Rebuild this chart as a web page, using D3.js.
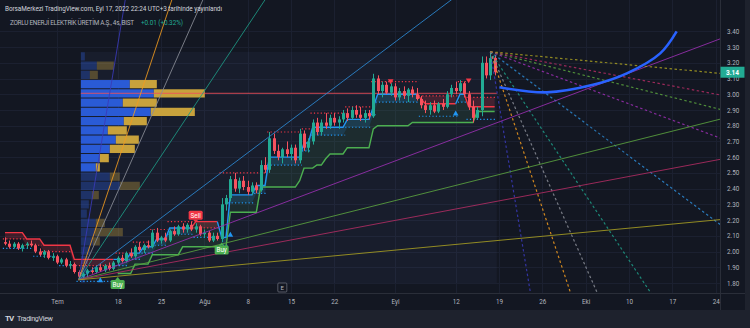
<!DOCTYPE html>
<html>
<head>
<meta charset="utf-8">
<script src="https://cdnjs.cloudflare.com/ajax/libs/d3/7.8.5/d3.min.js"></script>
<style>
body { margin: 0; background: #131722; }
svg { display: block; font-family: Roboto, "Noto Sans", sans-serif; }
</style>
</head>
<body>
<div id="CHART"></div>
<script>
// 4h bars, [open, high, low, close]
const candles = [
  [2.06,2.09,2.04,2.05],[2.05,2.07,2.02,2.03],[2.03,2.06,2.02,2.05],[2.05,2.06,2.01,2.02],
  [2.02,2.05,2.00,2.04],[2.04,2.06,2.02,2.05],[2.05,2.07,2.03,2.04],[2.04,2.05,1.99,2.00],
  [2.00,2.02,1.97,1.98],[1.98,2.01,1.96,2.00],[2.00,2.01,1.95,1.96],[1.96,1.99,1.94,1.97],
  [1.97,1.98,1.92,1.93],[1.93,1.96,1.92,1.95],[1.95,1.96,1.90,1.91],[1.91,1.94,1.89,1.92],
  [1.92,1.93,1.86,1.87],[1.87,1.88,1.82,1.84],[1.84,1.87,1.83,1.86],[1.86,1.89,1.84,1.88],
  [1.88,1.90,1.86,1.87],[1.87,1.91,1.86,1.90],[1.90,1.92,1.87,1.88],[1.88,1.92,1.87,1.91],
  [1.91,1.93,1.88,1.89],[1.89,1.94,1.88,1.93],[1.93,1.97,1.91,1.96],[1.96,1.98,1.93,1.94],
  [1.94,2.00,1.93,1.99],[1.99,2.02,1.96,1.97],[1.97,2.04,1.96,2.03],[2.03,2.06,2.00,2.01],
  [2.01,2.05,1.99,2.04],[2.04,2.07,2.02,2.03],[2.03,2.14,2.02,2.12],[2.12,2.15,2.06,2.07],
  [2.07,2.10,2.05,2.09],[2.09,2.12,2.06,2.07],[2.07,2.14,2.06,2.13],[2.13,2.16,2.10,2.11],
  [2.11,2.17,2.10,2.16],[2.16,2.18,2.12,2.14],[2.14,2.18,2.12,2.17],[2.17,2.19,2.13,2.14],
  [2.14,2.18,2.12,2.16],[2.16,2.17,2.10,2.11],[2.11,2.14,2.09,2.12],[2.12,2.13,2.06,2.07],
  [2.07,2.12,2.06,2.10],[2.10,2.12,2.07,2.08],[2.08,2.34,2.06,2.30],[2.30,2.36,2.26,2.34],
  [2.34,2.48,2.32,2.46],[2.46,2.50,2.38,2.40],[2.40,2.47,2.37,2.45],[2.45,2.48,2.39,2.41],
  [2.41,2.45,2.36,2.38],[2.38,2.44,2.36,2.42],[2.42,2.44,2.37,2.39],[2.39,2.58,2.38,2.55],
  [2.55,2.60,2.50,2.52],[2.52,2.76,2.50,2.72],[2.72,2.75,2.62,2.64],[2.64,2.68,2.58,2.60],
  [2.60,2.66,2.56,2.65],[2.65,2.70,2.60,2.62],[2.62,2.68,2.58,2.66],[2.66,2.68,2.56,2.58],
  [2.58,2.78,2.56,2.75],[2.75,2.77,2.64,2.66],[2.66,2.72,2.63,2.70],[2.70,2.84,2.68,2.82],
  [2.82,2.85,2.74,2.76],[2.76,2.84,2.74,2.82],[2.82,2.88,2.78,2.80],[2.80,2.87,2.78,2.85],
  [2.85,2.88,2.80,2.82],[2.82,2.86,2.78,2.84],[2.84,2.90,2.82,2.88],[2.88,2.91,2.83,2.85],
  [2.85,2.92,2.84,2.90],[2.90,2.93,2.85,2.87],[2.87,2.92,2.83,2.85],[2.85,2.90,2.82,2.88],
  [2.88,2.90,2.84,2.86],[2.86,3.13,2.85,3.10],[3.10,3.12,3.00,3.02],[3.02,3.08,2.98,3.06],
  [3.06,3.08,3.00,3.01],[3.01,3.07,2.99,3.05],[3.05,3.07,2.96,2.98],[2.98,3.04,2.96,3.02],
  [3.02,3.05,2.97,2.99],[2.99,3.04,2.95,3.03],[3.03,3.05,2.98,3.00],[3.00,3.04,2.96,2.97],
  [2.97,2.99,2.91,2.93],[2.93,2.96,2.88,2.90],[2.90,2.95,2.87,2.93],[2.93,2.96,2.88,2.89],
  [2.89,2.95,2.88,2.94],[2.94,2.97,2.90,2.92],[2.92,3.02,2.91,3.00],[3.00,3.06,2.98,3.04],
  [3.04,3.08,3.00,3.02],[3.02,3.09,3.01,3.07],[3.07,3.08,2.98,3.00],[3.00,3.02,2.90,2.92],
  [2.92,2.96,2.82,2.85],[2.85,2.92,2.84,2.90],[2.90,3.24,2.86,3.20],[3.20,3.24,3.10,3.12],
  [3.12,3.27,3.09,3.23],[3.23,3.25,3.12,3.14]
];
const lastPrice = 3.14;

const timeTickBars = [12, 26, 36, 46, 56, 66, 76, 90, 104, 114, 124, 134, 144, 154, 164];
const timeTickLabels = ["Tem", "18", "25", "Ağu", "8", "15", "22", "Eyl", "12", "19", "26", "Eki", "10", "17", "24"];
const priceTicks = [1.8, 1.9, 2.0, 2.1, 2.2, 2.3, 2.4, 2.5, 2.6, 2.7, 2.8, 2.9, 3.0, 3.1, 3.2, 3.3, 3.4];

// trend indicator, [fromBar, toBar, value]
const trendSegs = [[0,4,2.12],[5,8,2.08],[9,15,2.04],[16,25,1.95],[26,28,1.95],[29,31,1.99],[32,34,2.03],
  [35,37,2.08],[38,43,2.15],[44,49,2.19],[50,51,2.09],[52,57,2.36],[58,60,2.42],[61,68,2.60],[69,70,2.69],
  [71,78,2.79],[79,84,2.84],[85,85,2.92],[86,95,3.00],[96,96,2.97],[97,104,2.94],[105,106,3.00],[107,113,2.92]];
const trendDirs = [[0,25,-1],[26,43,1],[44,49,-1],[50,95,1],[96,104,-1],[105,106,1],[107,113,-1]];
const redDots = [[0,4,2.08],[5,8,2.04],[9,15,2.00],[16,25,1.91],[26,29,1.99],[30,33,2.06],[34,37,2.14],
  [38,43,2.19],[44,49,2.15],[50,60,2.50],[61,68,2.76],[69,70,2.78],[71,78,2.88],[79,84,2.92],[85,95,3.08],
  [96,104,2.99],[105,106,3.08],[107,113,2.98]];
const blueDots = [[0,6,2.02],[7,12,1.97],[13,16,1.91],[17,25,1.81],[26,28,1.91],[29,31,1.95],[32,34,1.99],
  [35,37,2.04],[38,43,2.11],[44,49,2.09],[50,51,2.04],[52,57,2.31],[58,60,2.37],[61,68,2.55],[69,70,2.64],
  [71,78,2.74],[79,84,2.79],[85,85,2.87],[86,95,2.95],[96,104,2.86],[105,106,2.95],[107,113,2.84]];
const greenSegs = [[26,29,1.86],[30,33,1.92],[34,40,1.98],[41,51,2.03],[52,58,2.25],[59,67,2.41],[68,68,2.45],
  [69,71,2.53],[72,73,2.55],[74,74,2.59],[75,78,2.62],[79,84,2.66],[85,85,2.78],[86,93,2.80],[94,108,2.82],
  [109,113,2.89]];
const buyTags = [[26, 1.79], [50, 2.01]];
const sellTags = [[44, 2.23]];
const upMarks = [[22, 1.815], [52, 2.105], [104, 2.875]];
const downMarks = [[89, 3.085], [107, 3.09]];

// volume profile, rows from 3.27 down to 1.80
const vpTop = 3.27, vpBottom = 1.80, vpFromBar = 17.5, vpToBar = 113.5;
const vpUp =   [4, 16, 9, 49, 73, 42, 70, 43, 27, 35, 29, 19, 15, 29, 39, 11, 8, 6, 15, 14, 12, 9, 7, 6, 4];
const vpDown = [0, 17, 8, 27, 51, 34, 44, 23, 19, 23, 25, 9, 4, 10, 20, 7, 0, 0, 9, 28, 7, 0, 0, 0, 0];
const valueArea = [3, 12];
const pocPrice = 3.006;

// gann fans
const fanRatios = [8, 4, 3, 2, 1, 1/2, 1/3, 1/4, 1/8];
const fanUnit = 0.0207;
const lowFan = [17, 1.82];
const highFan = [112, 3.27];
const arcPoints = [[114.1,3.044],[125,3.012],[135.7,3.06],[143.5,3.133],[151.2,3.26],[155,3.40]];
const earningsBar = 64;

const fanColors = ["#3a3ab8", "#f29b1e", "#8a8d96", "#1f9b86", "#2d8ad4", "#9a2fb2", "#5ba23e", "#b22d63", "#a89f22"];

const width = 750, height = 328, plotR = 720, plotB = 293;

const x = d3.scaleLinear().domain([0, 164]).range([5, 5 + 164 * 4.3333]);
const y = d3.scaleLinear().domain([1.8, 3.4]).range([283, 283 - 1.6 * 157.3]);

const segMap = segs => {
  const m = new Map();
  segs.forEach(([a, b, v]) => { for (let i = a; i <= b; i++) m.set(i, v); });
  return m;
};

const svg = d3.select("#CHART").append("svg").attr("width", width).attr("height", height);

svg.append("rect").attr("width", width).attr("height", height).attr("fill", "#131722");
svg.append("rect").attr("y", 310).attr("width", width).attr("height", 18).attr("fill", "#1e222d");
svg.append("rect").attr("x", 745).attr("width", 5).attr("height", height).attr("fill", "#1e222d");

svg.append("clipPath").attr("id", "plotClip")
  .append("rect").attr("width", plotR).attr("height", plotB);

const grid = svg.append("g").attr("stroke", "#1b2030").attr("stroke-width", 1);
grid.selectAll(".vg").data(timeTickBars).enter().append("line")
  .attr("x1", d => Math.round(x(d)) + 0.5).attr("x2", d => Math.round(x(d)) + 0.5)
  .attr("y1", 0).attr("y2", plotB);
grid.selectAll(".hg").data(priceTicks).enter().append("line")
  .attr("x1", 0).attr("x2", plotR)
  .attr("y1", d => Math.round(y(d)) + 0.5).attr("y2", d => Math.round(y(d)) + 0.5);

const plot = svg.append("g").attr("clip-path", "url(#plotClip)");

// volume profile
const rowH = (y(vpBottom) - y(vpTop)) / vpUp.length;
const vx = d3.scaleLinear().domain([0, 1]).range([0, 1]);
plot.append("rect")
  .attr("x", x(vpFromBar)).attr("y", y(vpTop))
  .attr("width", x(vpToBar) - x(vpFromBar)).attr("height", y(vpBottom) - y(vpTop))
  .attr("fill", "rgba(120,140,200,0.06)");

const vp = plot.append("g");
vpUp.forEach((u, k) => {
  const inVA = k >= valueArea[0] && k <= valueArea[1];
  const ry = y(vpTop) + k * rowH;
  vp.append("rect").attr("x", x(vpFromBar)).attr("y", ry + 0.5)
    .attr("width", vx(u)).attr("height", rowH - 1)
    .attr("fill", inVA ? "#2a5bd6" : "rgba(42,91,214,0.35)");
  vp.append("rect").attr("x", x(vpFromBar) + vx(u)).attr("y", ry + 0.5)
    .attr("width", vx(vpDown[k])).attr("height", rowH - 1)
    .attr("fill", inVA ? "#c8a23c" : "rgba(200,162,60,0.35)");
});

plot.append("line")
  .attr("x1", x(vpFromBar)).attr("x2", x(vpToBar))
  .attr("y1", y(pocPrice)).attr("y2", y(pocPrice))
  .attr("stroke", "#f0505a").attr("stroke-opacity", 0.85).attr("stroke-width", 1);

// trend indicator
const trendMap = segMap(trendSegs), redMap = segMap(redDots), blueMap = segMap(blueDots), greenMap = segMap(greenSegs);

const greenBars = Array.from(greenMap.keys());
plot.append("path")
  .datum(greenBars)
  .attr("fill", "rgba(76,175,80,0.10)")
  .attr("d", d3.area().x(d => x(d)).y0(d => y(greenMap.get(d))).y1(d => y(trendMap.get(d))));

trendDirs.forEach(([a, b, dir]) => {
  const band = dir > 0 ? blueMap : redMap;
  plot.append("path")
    .datum(d3.range(a, b + 1))
    .attr("fill", dir > 0 ? "rgba(33,150,243,0.16)" : "rgba(242,54,69,0.2)")
    .attr("d", d3.area().x(d => x(d)).y0(d => y(band.get(d))).y1(d => y(trendMap.get(d))));
});

const dotted = (segs, color) => {
  plot.append("g").selectAll("line").data(segs).enter().append("line")
    .attr("x1", d => x(d[0] - 0.5)).attr("x2", d => x(d[1] + 0.5))
    .attr("y1", d => y(d[2])).attr("y2", d => y(d[2]))
    .attr("stroke", color).attr("stroke-width", 1.2).attr("stroke-dasharray", "1.2,2.2");
};
dotted(redDots, "#f23645");
dotted(blueDots, "#2196f3");

plot.append("path")
  .datum(greenBars)
  .attr("fill", "none").attr("stroke", "#4caf50").attr("stroke-width", 1.4)
  .attr("d", d3.line().x(d => x(d)).y(d => y(greenMap.get(d))));

trendDirs.forEach(([a, b, dir]) => {
  plot.append("path")
    .datum(d3.range(Math.max(a - 1, 0), b + 1))
    .attr("fill", "none").attr("stroke", dir > 0 ? "#2196f3" : "#f23645").attr("stroke-width", 1.4)
    .attr("d", d3.line().x(d => x(d)).y(d => y(trendMap.get(d))));
});

// candles
const cg = plot.append("g").selectAll("g").data(candles).enter().append("g");
cg.append("line")
  .attr("x1", (d, i) => Math.round(x(i)) + 0.5).attr("x2", (d, i) => Math.round(x(i)) + 0.5)
  .attr("y1", d => y(d[1])).attr("y2", d => y(d[2]))
  .attr("stroke", d => d[3] >= d[0] ? "#22ab94" : "#f7525f");
cg.append("rect")
  .attr("x", (d, i) => Math.round(x(i)) - 1).attr("width", 3)
  .attr("y", d => y(Math.max(d[0], d[3])))
  .attr("height", d => Math.max(1, Math.abs(y(d[0]) - y(d[3]))))
  .attr("fill", d => d[3] >= d[0] ? "#22ab94" : "#f7525f");

// gann fans
fanRatios.forEach((r, k) => {
  const n = 200;
  plot.append("line")
    .attr("x1", x(lowFan[0])).attr("y1", y(lowFan[1]))
    .attr("x2", x(lowFan[0] + n)).attr("y2", y(lowFan[1] + r * fanUnit * n))
    .attr("stroke", fanColors[k]).attr("stroke-opacity", 0.85).attr("stroke-width", 1);
  plot.append("line")
    .attr("x1", x(highFan[0])).attr("y1", y(highFan[1]))
    .attr("x2", x(highFan[0] + n)).attr("y2", y(highFan[1] - r * fanUnit * n))
    .attr("stroke", fanColors[k]).attr("stroke-opacity", 0.85).attr("stroke-width", 1.2)
    .attr("stroke-dasharray", "2.5,2.5");
});

plot.append("path")
  .datum(arcPoints)
  .attr("fill", "none").attr("stroke", "#2962ff").attr("stroke-width", 2.6)
  .attr("d", d3.line().x(d => x(d[0])).y(d => y(d[1])).curve(d3.curveCatmullRom));

// markers
plot.append("g").selectAll("path").data(upMarks).enter().append("path")
  .attr("transform", d => `translate(${x(d[0])},${y(d[1])})`)
  .attr("d", d3.symbol(d3.symbolTriangle).size(14)).attr("fill", "#2196f3");
plot.append("g").selectAll("path").data(downMarks).enter().append("path")
  .attr("transform", d => `translate(${x(d[0])},${y(d[1])}) rotate(180)`)
  .attr("d", d3.symbol(d3.symbolTriangle).size(14)).attr("fill", "#f23645");

const tag = (d, text, color, up) => {
  const cx = x(d[0]), cy = y(d[1]);
  const g = plot.append("g");
  g.append("path")
    .attr("d", up ? `M${cx - 2.5},${cy - 4.5}L${cx},${cy - 7.5}L${cx + 2.5},${cy - 4.5}Z`
                  : `M${cx - 2.5},${cy + 4.5}L${cx},${cy + 7.5}L${cx + 2.5},${cy + 4.5}Z`)
    .attr("fill", color);
  g.append("rect").attr("x", cx - 7).attr("y", cy - 4.5).attr("width", 14).attr("height", 9)
    .attr("rx", 1.5).attr("fill", color);
  g.append("text").attr("x", cx).attr("y", cy + 2.2).attr("text-anchor", "middle")
    .attr("font-size", 6.3).attr("fill", "#ffffff").text(text);
};
buyTags.forEach(d => tag(d, "Buy", "#4caf50", true));
sellTags.forEach(d => tag(d, "Sell", "#f23645", false));

// axes
svg.append("line").attr("x1", plotR + 0.5).attr("x2", plotR + 0.5).attr("y1", 0).attr("y2", 310)
  .attr("stroke", "#2a2e39");
svg.append("line").attr("x1", 0).attr("x2", 745).attr("y1", plotB + 0.5).attr("y2", plotB + 0.5)
  .attr("stroke", "#2a2e39");

const yAxis = svg.append("g")
  .attr("transform", `translate(${plotR + 4},0)`)
  .call(d3.axisRight(y).tickValues(priceTicks).tickSize(0).tickFormat(d3.format(".2f")));
const xAxis = svg.append("g")
  .attr("transform", `translate(0,${plotB + 4})`)
  .call(d3.axisBottom(x).tickValues(timeTickBars).tickSize(0).tickFormat((d, i) => timeTickLabels[i]));
[yAxis, xAxis].forEach(a => {
  a.select(".domain").remove();
  a.selectAll("text").attr("fill", "#b2b5be").attr("font-size", 6.3).attr("font-family", "Roboto, 'Noto Sans', sans-serif");
});

svg.append("rect").attr("x", plotR + 0.5).attr("y", y(lastPrice) - 5.5).attr("width", 24).attr("height", 11)
  .attr("fill", "#22ab94");
svg.append("text").attr("x", plotR + 12.5).attr("y", y(lastPrice) + 2.3).attr("text-anchor", "middle")
  .attr("font-size", 6.5).attr("font-weight", "bold").attr("fill", "#ffffff").text(d3.format(".2f")(lastPrice));

const ex = x(earningsBar);
svg.append("rect").attr("x", ex - 4.5).attr("y", 283).attr("width", 9).attr("height", 9)
  .attr("fill", "#131722").attr("stroke", "#6a6d78").attr("stroke-width", 0.8).attr("rx", 1);
svg.append("text").attr("x", ex).attr("y", 290).attr("text-anchor", "middle")
  .attr("font-size", 6).attr("fill", "#b2b5be").text("E");

// header
svg.append("text").attr("x", 5).attr("y", 10.5).attr("font-size", 6.4).attr("fill", "#d1d4dc")
  .attr("textLength", 217).text("BorsaMerkezi TradingView.com, Eyl 17, 2022 22:24 UTC+3 tarihinde yayınlandı");
svg.append("text").attr("x", 10).attr("y", 24.5).attr("font-size", 6.4).attr("fill", "#b2b5be")
  .attr("textLength", 124).text("ZORLU ENERJİ ELEKTRİK ÜRETİM A.Ş., 4s, BIST");
svg.append("text").attr("x", 141).attr("y", 24.5).attr("font-size", 6.4).attr("fill", "#22ab94")
  .attr("textLength", 42).text("+0.01 (+0.32%)");

// footer logo
svg.append("text").attr("x", 5).attr("y", 321).attr("font-size", 8).attr("font-weight", "bold")
  .attr("fill", "#d1d4dc").attr("letter-spacing", -1).text("TV");
svg.append("text").attr("x", 17).attr("y", 321).attr("font-size", 7.2).attr("fill", "#d1d4dc")
  .attr("textLength", 36).text("TradingView");
</script>
</body>
</html>
